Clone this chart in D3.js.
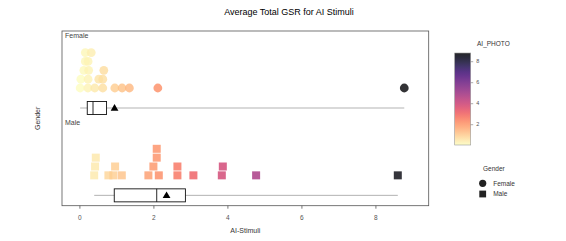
<!DOCTYPE html>
<html>
<head>
<meta charset="utf-8">
<script src="https://cdn.jsdelivr.net/npm/d3@7"></script>
<style>
  body { margin: 0; background: #fff; }
  text { font-family: "Liberation Sans", Arial, sans-serif; }
</style>
</head>
<body>
<div id="chart"></div>
<script>
const genders = ["Female", "Male"];
// AI-Stimuli value of each participant, in recorded order
const femaleValues = [0.02, 0.04, 0.12, 0.16, 0.16, 0.23, 0.235, 0.25, 0.235, 0.32,
  0.416, 0.524, 0.632, 0.632, 0.66, 0.957, 1.154, 1.351, 2.12, 8.78];
const maleValues = [0.40, 0.424, 0.443, 0.784, 0.919, 0.965, 1.146, 1.865, 2.146, 2.0,
  2.09, 2.09, 2.649, 2.649, 3.081, 3.849, 3.876, 4.776, 8.605];
const xTicks = [0, 2, 4, 6, 8];
const colorTicks = [2, 4, 6, 8];

const width = 566, height = 241;
const panel = { left: 62, right: 428.7, top: 31, bottom: 205.7 };

const svg = d3.select("#chart").append("svg")
  .attr("width", width)
  .attr("height", height);

const x = d3.scaleLinear().domain([-0.47, 9.44]).range([panel.left, panel.right]);
const band = d3.scaleBand().domain(genders).range([panel.top, panel.bottom]);

const allValues = femaleValues.concat(maleValues);
const color = d3.scaleSequential(t => d3.interpolateMagma(1 - t)).domain(d3.extent(allValues));

const groups = [
  { gender: "Female", values: femaleValues },
  { gender: "Male", values: maleValues }
];

// dot stacking: fixed bins, dots keep their own x, rows in recorded order
const binW = 0.2, rowStep = 8.85;
groups.forEach(g => {
  const counts = new Map();
  g.dots = g.values.map(v => {
    const b = Math.floor(v / binW + 1e-9);
    const row = counts.get(b) || 0;
    counts.set(b, row + 1);
    return { v, row };
  });
  const s = g.values.slice().sort(d3.ascending);
  g.stats = {
    min: s[0], max: s[s.length - 1],
    q1: d3.quantile(s, 0.25), med: d3.quantile(s, 0.5), q3: d3.quantile(s, 0.75),
    mean: d3.mean(s)
  };
});

// title
svg.append("text")
  .attr("x", 289).attr("y", 15)
  .attr("text-anchor", "middle")
  .style("font-size", "9px")
  .attr("fill", "#000")
  .text("Average Total GSR for AI Stimuli");

// panel frame
svg.append("rect")
  .attr("x", panel.left).attr("y", panel.top)
  .attr("width", panel.right - panel.left).attr("height", panel.bottom - panel.top)
  .attr("fill", "none").attr("stroke", "#555").attr("stroke-width", 0.8);

const g = svg.selectAll("g.gender")
  .data(groups)
  .join("g")
  .attr("class", "gender")
  .attr("transform", d => `translate(0,${band(d.gender)})`);

g.append("text")
  .attr("x", 65).attr("y", 6.6)
  .style("font-size", "7px")
  .attr("fill", "#444")
  .text(d => d.gender);

// whisker (min to max)
g.append("line")
  .attr("x1", d => x(d.stats.min)).attr("x2", d => x(d.stats.max))
  .attr("y1", 77).attr("y2", 77)
  .attr("stroke", "#b3b3b3").attr("stroke-width", 1);

g.append("rect")
  .attr("x", d => x(d.stats.q1)).attr("width", d => x(d.stats.q3) - x(d.stats.q1))
  .attr("y", 70.5).attr("height", 13)
  .attr("fill", "#fff").attr("stroke", "#111").attr("stroke-width", 0.9);

g.append("line")
  .attr("x1", d => x(d.stats.med)).attr("x2", d => x(d.stats.med))
  .attr("y1", 70.5).attr("y2", 83.5)
  .attr("stroke", "#111").attr("stroke-width", 0.9);

g.append("path")
  .attr("d", d3.symbol(d3.symbolTriangle, 26))
  .attr("transform", d => `translate(${x(d.stats.mean)},77.5)`)
  .attr("fill", "#000");

// dots
g.each(function(d) {
  const sel = d3.select(this);
  const yOf = p => 57 - p.row * rowStep;
  if (d.gender === "Female") {
    sel.selectAll("circle.dot").data(d.dots).join("circle")
      .attr("class", "dot")
      .attr("cx", p => x(p.v)).attr("cy", yOf)
      .attr("r", 4.4)
      .attr("fill", p => color(p.v))
      .attr("fill-opacity", 0.8);
  } else {
    sel.selectAll("rect.dot").data(d.dots).join("rect")
      .attr("class", "dot")
      .attr("x", p => x(p.v) - 4).attr("y", p => yOf(p) - 4)
      .attr("width", 8).attr("height", 8)
      .attr("fill", p => color(p.v))
      .attr("fill-opacity", 0.8);
  }
});

// x axis
const xAxis = svg.append("g")
  .attr("transform", `translate(0,${panel.bottom})`)
  .call(d3.axisBottom(x).tickValues(xTicks).tickSize(3).tickPadding(7).tickFormat(d3.format("d")));
xAxis.select(".domain").remove();
xAxis.selectAll("line").attr("stroke", "#555").attr("stroke-width", 0.8);
xAxis.selectAll("text").attr("fill", "#555").style("font-size", "6.5px")
  .style("font-family", '"Liberation Sans", Arial, sans-serif');

svg.append("text")
  .attr("x", (panel.left + panel.right) / 2).attr("y", 233)
  .attr("text-anchor", "middle")
  .style("font-size", "7px")
  .attr("fill", "#333")
  .text("AI-Stimuli");

svg.append("text")
  .attr("transform", `translate(40,${(panel.top + panel.bottom) / 2}) rotate(-90)`)
  .attr("text-anchor", "middle")
  .style("font-size", "7px")
  .attr("fill", "#333")
  .text("Gender");

// colour legend
const cy = d3.scaleLinear().domain(d3.extent(allValues)).range([145, 53]);
const defs = svg.append("defs");
const grad = defs.append("linearGradient").attr("id", "cbar")
  .attr("x1", 0).attr("x2", 0).attr("y1", 1).attr("y2", 0);
grad.selectAll("stop").data(d3.range(0, 1.0001, 0.05)).join("stop")
  .attr("offset", t => t)
  .attr("stop-color", t => color(color.domain()[0] + t * (color.domain()[1] - color.domain()[0])));

svg.append("text")
  .attr("x", 477).attr("y", 46)
  .style("font-size", "6.5px").attr("fill", "#333")
  .text("AI_PHOTO");

svg.append("rect")
  .attr("x", 454.7).attr("y", 53).attr("width", 16).attr("height", 92)
  .attr("fill", "url(#cbar)").attr("fill-opacity", 0.85)
  .attr("stroke", "#999").attr("stroke-width", 0.6);

const cAxis = svg.append("g")
  .attr("transform", "translate(470.7,0)")
  .call(d3.axisRight(cy).tickValues(colorTicks).tickSize(2.5).tickPadding(3));
cAxis.select(".domain").remove();
cAxis.selectAll("line").attr("stroke", "#777").attr("stroke-width", 0.6);
cAxis.selectAll("text").attr("fill", "#555").style("font-size", "5.5px")
  .style("font-family", '"Liberation Sans", Arial, sans-serif');

// shape legend
svg.append("text")
  .attr("x", 483).attr("y", 171)
  .style("font-size", "6.5px").attr("fill", "#333")
  .text("Gender");

const shapeLegend = svg.selectAll("g.shape")
  .data(genders)
  .join("g")
  .attr("class", "shape")
  .attr("transform", (d, i) => `translate(482.7,${183.3 + i * 10.7})`);

shapeLegend.filter(d => d === "Female").append("circle")
  .attr("r", 3.6).attr("fill", "#222");
shapeLegend.filter(d => d === "Male").append("rect")
  .attr("x", -3.4).attr("y", -3.4).attr("width", 6.8).attr("height", 6.8).attr("fill", "#222");
shapeLegend.append("text")
  .attr("x", 10.5).attr("dy", "0.35em")
  .style("font-size", "6.5px").attr("fill", "#333")
  .text(d => d);
</script>
</body>
</html>
